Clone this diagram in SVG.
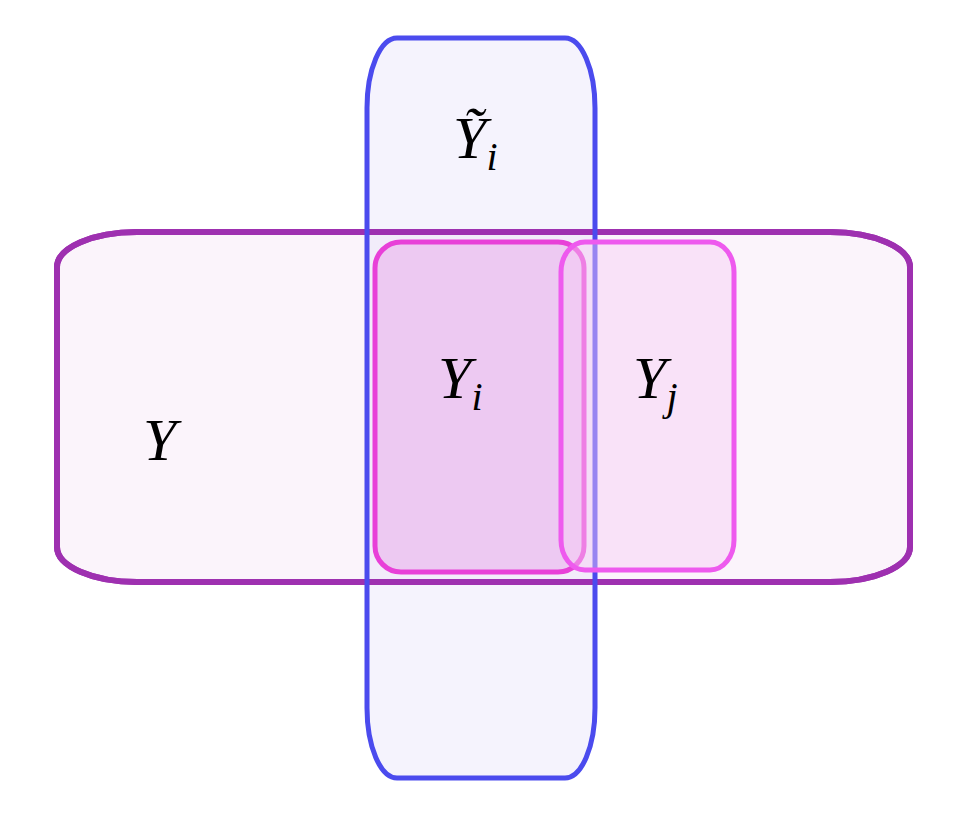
<svg xmlns="http://www.w3.org/2000/svg" width="966" height="817" viewBox="0 0 966 817">
<style>
.lbl{font-family:"Liberation Serif",serif;font-style:italic;font-size:60px;fill:#000}
.sub{font-size:40px}
.ybox{stroke:#9E30B0;stroke-width:6}
.tbox{stroke:#4B4BEE;stroke-width:5}
</style>
<rect width="966" height="817" fill="#fff"/>
<g id="Y">
<rect class="ybox" x="57" y="232" width="853" height="350" rx="80" ry="35" fill="#FBF4FB"/>
<text class="lbl" x="143" y="460">Y</text>
</g>
<g id="Ytilde">
<rect x="367" y="38" width="228" height="740" rx="30" ry="70" fill="#E6E2FA" fill-opacity="0.4"/>
<rect class="ybox" x="57" y="232" width="853" height="350" rx="80" ry="35" fill="none"/>
<rect class="tbox" x="367" y="38" width="228" height="740" rx="30" ry="70" fill="none"/>
<text class="lbl" x="453" y="158">Ỹ<tspan class="sub" dy="12">i</tspan></text>
</g>
<g id="Yi">
<rect x="375" y="242" width="209" height="330" rx="26" ry="26" fill="#EBBBEE" fill-opacity="0.7" stroke="#E840D8" stroke-width="5"/>
<text class="lbl" x="438" y="398">Y<tspan class="sub" dy="12">i</tspan></text>
</g>
<g id="Yj">
<rect x="561" y="242" width="173" height="328" rx="24" ry="30" fill="#F6CCF4" fill-opacity="0.45" stroke="#EE5AEE" stroke-width="5"/>
<text class="lbl" x="633" y="398">Y<tspan class="sub" dy="12">j</tspan></text>
</g>
<g id="connectors"/>
</svg>
